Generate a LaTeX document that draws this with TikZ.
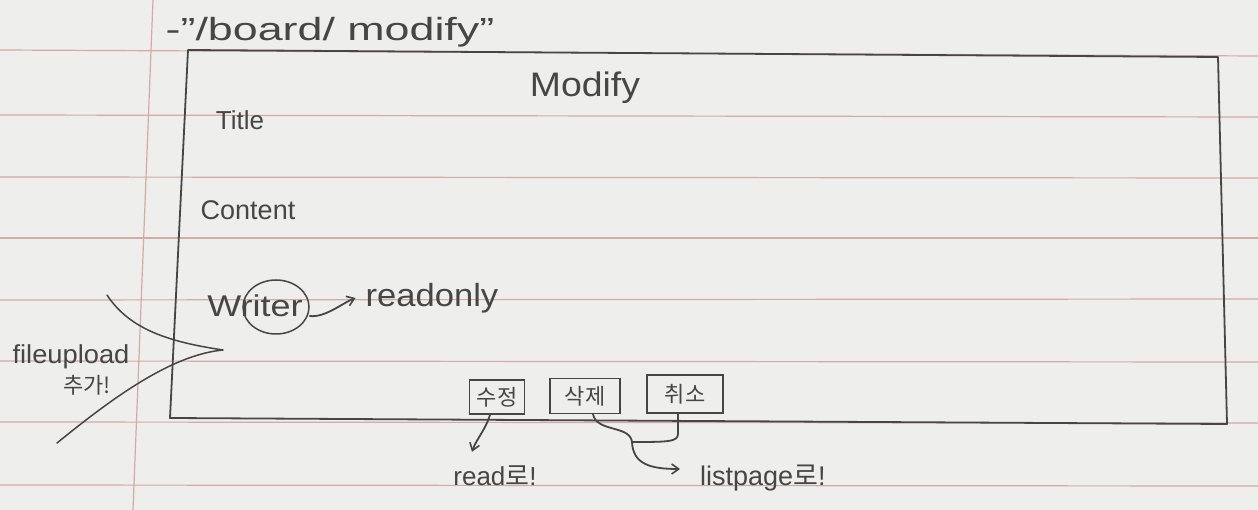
\documentclass[tikz,border=0pt]{standalone}
\usepackage{fontspec}
\setmainfont{Liberation Sans}
\newfontfamily\kr{Noto Sans CJK KR}
\usetikzlibrary{arrows.meta,shapes.geometric}
\definecolor{paper}{RGB}{238,238,236}
\definecolor{ruleline}{RGB}{212,170,165}
\definecolor{pencil}{RGB}{70,70,70}
\tikzset{
  pen/.style={draw=pencil, line width=1.8pt, line cap=round, line join=round},
  hand/.style={text=pencil, inner sep=0pt},
  btn/.style={draw=pencil, line width=1.8pt, text=pencil, inner sep=0pt, font=\kr\fontsize{22}{24}\selectfont},
  tipend/.style={-{Straight Barb[length=7pt,width=10pt,line width=1.6pt]}},
  paperline/.style={draw=ruleline, line width=1.2pt}
}
\begin{document}
\begin{tikzpicture}[x=1pt,y=-1pt]
\fill[paper] (0,0) rectangle (1258,510);
\useasboundingbox (0,0) rectangle (1258,510);
% ruled paper
\foreach \a/\b in {50/56,115/117,177/178,238/238,300/299,361/362,422/423,485/486}
  \draw[paperline] (0,\a) -- (1258,\b);
\draw[paperline] (153,0) -- (133,510);

% main frame
\draw[pen] (188,50) -- (1218,57) -- (1227,424) -- (170,418) -- cycle;

% texts
\node[hand, font=\fontsize{32}{36}\selectfont] (url) at (330,32) {\scalebox{1.4}[1]{-"/board/ modify"}};
\node[hand, font=\fontsize{34}{38}\selectfont] (mod) at (585,88) {\scalebox{1.1}[1]{Modify}};
\node[hand, font=\fontsize{26}{30}\selectfont] (title) at (240,120) {Title};
\node[hand, font=\fontsize{27}{30}\selectfont] (content) at (248,210) {Content};
\node[hand, font=\fontsize{30}{34}\selectfont] (writer) at (255,306) {\scalebox{1.2}[1]{Writer}};
\node[draw=pencil, line width=1.5pt, ellipse, minimum width=66, minimum height=54, inner sep=0pt] (wc) at (276,307) {};
\node[hand, font=\fontsize{32}{36}\selectfont] (ro) at (432,298) {\scalebox{1.08}[1]{readonly}};
\draw[pen, tipend] ([yshift=-9pt]wc.east) .. controls +(15,2) and +(-13,5) .. ([xshift=-10pt]ro.west);

% buttons
\node[btn, minimum width=55, minimum height=34] (b1) at (497,397) {수정};
\node[btn, minimum width=70, minimum height=35] (b2) at (585,396) {삭제};
\node[btn, minimum width=76, minimum height=38] (b3) at (685,394) {취소};

% labels below
\node[hand, font=\fontsize{26}{30}\selectfont] (rl) at (495,476) {read{\kr 로}!};
\node[hand, anchor=west, font=\fontsize{27}{30}\selectfont] (ll) at (700,478) {listpage{\kr 로}!};
\draw[pen, tipend] ([xshift=-7pt]b1.south) .. controls +(-4,14) and +(4,-12) .. ([xshift=-23pt,yshift=14pt]rl.north);
\coordinate (jn) at (632,442);
\draw[pen, tipend] ([xshift=8pt]b2.south) .. controls +(4,18) and +(-2,-17) .. (jn)
   .. controls +(1,22) and +(-30,0) .. ([xshift=-20pt,yshift=9pt]ll.west);
\draw[pen] ([xshift=-7pt]b3.south) -- ++(0,20) .. controls +(0,8) and +(36,0) .. (jn);

% file upload note
\node[hand, font=\fontsize{26}{28}\selectfont] (fu) at (71,357) {\scalebox{1.05}[1]{fileupload}};
\node[hand, font=\kr\fontsize{22}{24}\selectfont] (fu2) at (87,385) {추가!};
\coordinate (tp) at (223,350);
\coordinate (p1) at (107,295);
\coordinate (p2) at (57,443);
\draw[pen, line width=1.5pt] (p1) .. controls (130,330) and (170,342) .. (tp)
   .. controls (170,355) and (110,400) .. (p2);
\end{tikzpicture}
\end{document}
